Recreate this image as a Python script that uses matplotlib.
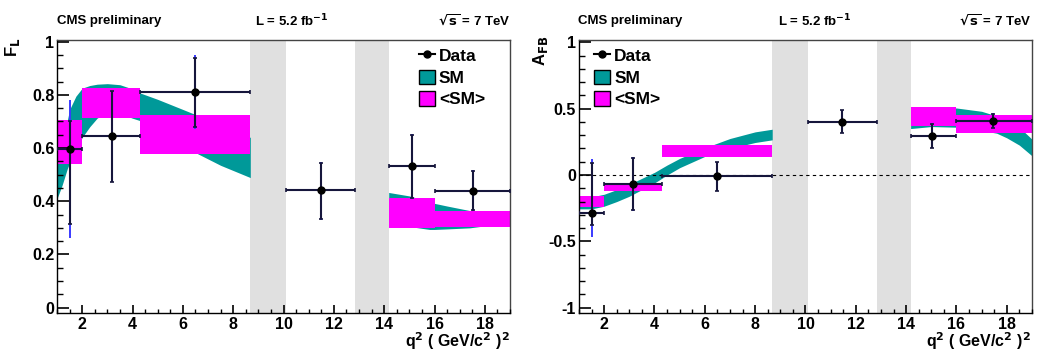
import numpy as np
import matplotlib
matplotlib.use('Agg')
import matplotlib.pyplot as plt
from matplotlib.lines import Line2D
from matplotlib.patches import Patch
from matplotlib.ticker import MultipleLocator

plt.rcParams['font.family'] = ['Liberation Sans', 'DejaVu Sans']
plt.rcParams['font.weight'] = 'bold'
plt.rcParams['mathtext.default'] = 'bf'

# q2 bins (GeV^2)
bin_lo = np.array([1.0, 2.0, 4.3, 10.09, 14.18, 16.0])
bin_hi = np.array([2.0, 4.3, 8.68, 12.86, 16.0, 19.0])
vetoed = [(8.68, 10.09), (12.86, 14.18)]

# F_L data
fl_x = np.array([1.5, 3.17, 6.49, 11.47, 15.1, 17.52])
fl_val = np.array([0.597, 0.644, 0.809, 0.443, 0.532, 0.44])
fl_stat_up = np.array([0.105, 0.17, 0.13, 0.10, 0.118, 0.072])
fl_stat_dn = np.array([0.282, 0.17, 0.13, 0.108, 0.12, 0.072])
fl_tot_up = np.array([0.183, 0.172, 0.14, 0.106, 0.122, 0.076])
fl_tot_dn = np.array([0.337, 0.172, 0.137, 0.112, 0.125, 0.076])
# <SM> bin averages (low, high)
fl_avg_lo = np.array([0.541, 0.712, 0.577, np.nan, 0.299, 0.302])
fl_avg_hi = np.array([0.704, 0.827, 0.723, np.nan, 0.414, 0.365])
# SM band
fl_sm_q2_a = [1.0, 1.2, 1.4, 1.5, 1.75, 2.0, 2.3, 2.6, 3.0, 3.5, 4.0, 4.3, 5.0, 6.0, 6.6, 7.5, 8.68]
fl_sm_up_a = [0.55, 0.63, 0.70, 0.745, 0.795, 0.825, 0.835, 0.84, 0.842, 0.838, 0.822, 0.807, 0.783, 0.745, 0.722, 0.687, 0.64]
fl_sm_dn_a = [0.41, 0.46, 0.52, 0.545, 0.595, 0.64, 0.68, 0.713, 0.73, 0.73, 0.712, 0.703, 0.665, 0.61, 0.578, 0.535, 0.489]
fl_sm_q2_b = [14.18, 15.0, 15.8, 16.0, 16.5, 17.4, 18.2, 19.0]
fl_sm_up_b = [0.433, 0.42, 0.398, 0.392, 0.382, 0.365, 0.355, 0.35]
fl_sm_dn_b = [0.34, 0.305, 0.294, 0.294, 0.296, 0.30, 0.31, 0.325]

# A_FB data
afb_x = np.array([1.5, 3.16, 6.49, 11.44, 15.04, 17.45])
afb_val = np.array([-0.285, -0.068, -0.01, 0.40, 0.295, 0.407])
afb_stat_up = np.array([0.372, 0.198, 0.108, 0.088, 0.093, 0.056])
afb_stat_dn = np.array([0.09, 0.198, 0.11, 0.083, 0.093, 0.053])
afb_tot_up = np.array([0.405, 0.20, 0.11, 0.09, 0.095, 0.058])
afb_tot_dn = np.array([0.183, 0.20, 0.113, 0.085, 0.095, 0.055])
afb_avg_lo = np.array([-0.243, -0.123, 0.132, np.nan, 0.37, 0.32])
afb_avg_hi = np.array([-0.155, -0.062, 0.227, np.nan, 0.512, 0.452])
afb_sm_q2_a = [1.0, 1.5, 2.0, 2.5, 3.0, 3.5, 4.0, 4.5, 5.0, 6.0, 7.0, 8.0, 8.68]
afb_sm_up_a = [-0.17, -0.165, -0.145, -0.11, -0.07, -0.025, 0.02, 0.075, 0.125, 0.205, 0.275, 0.325, 0.345]
afb_sm_dn_a = [-0.255, -0.255, -0.235, -0.20, -0.16, -0.11, -0.06, 0.0, 0.055, 0.14, 0.20, 0.245, 0.265]
afb_sm_q2_b = [14.18, 15.0, 16.0, 17.0, 17.6, 18.0, 18.5, 19.0]
afb_sm_up_b = [0.47, 0.49, 0.505, 0.48, 0.445, 0.41, 0.36, 0.27]
afb_sm_dn_b = [0.35, 0.365, 0.36, 0.335, 0.315, 0.28, 0.225, 0.145]

teal = '#009999'
magenta = '#ff00ff'
navy = '#16163c'
blue = '#3a3aff'

fig = plt.figure(figsize=(10.37, 3.58), dpi=100)
ax1 = fig.add_axes([0.0550, 0.1265, 0.4368, 0.7617])
ax2 = fig.add_axes([0.5583, 0.1265, 0.4368, 0.7617])


def draw_panel(ax, x, val, s_up, s_dn, t_up, t_dn, avg_lo, avg_hi, sm):
    for a, b in vetoed:
        ax.axvspan(a, b, color='#e0e0e0', lw=0, zorder=0)
    for q, up, dn in sm:
        ax.fill_between(q, dn, up, color=teal, lw=0, zorder=1)
    ok = ~np.isnan(avg_lo)
    ax.bar(bin_lo[ok], (avg_hi - avg_lo)[ok], width=(bin_hi - bin_lo)[ok],
           bottom=avg_lo[ok], align='edge', color=magenta, lw=0, zorder=2)
    ax.errorbar(x, val, yerr=[t_dn, t_up], fmt='none', ecolor=blue,
                elinewidth=1.4, capsize=0, zorder=3)
    ax.errorbar(x, val, xerr=[x - bin_lo, bin_hi - x], yerr=[s_dn, s_up],
                fmt='o', color='black', ms=5, ecolor=navy, elinewidth=1.5,
                capsize=1.5, capthick=1.2, zorder=4)
    ax.set_xlim(1, 19)
    ax.xaxis.set_major_locator(MultipleLocator(2))
    ax.xaxis.set_minor_locator(MultipleLocator(0.5))
    ax.tick_params(axis='both', which='both', direction='in', top=False, right=False,
                   labelsize=11.5)
    ax.tick_params(axis='y', which='major', length=8.5, width=1.2, pad=2)
    ax.tick_params(axis='y', which='minor', length=4.3, width=1)
    ax.tick_params(axis='x', which='major', length=5.8, width=1.2, pad=3)
    ax.tick_params(axis='x', which='minor', length=2.9, width=1)
    for lab in ax.get_xticklabels() + ax.get_yticklabels():
        lab.set_fontweight('bold')
    for sp in ax.spines.values():
        sp.set_linewidth(1.0)
        sp.set_color('#444444')
    ax.spines['left'].set_color('black')
    ax.spines['bottom'].set_color('black')
    ax.set_axisbelow(False)


draw_panel(ax1, fl_x, fl_val, fl_stat_up, fl_stat_dn, fl_tot_up, fl_tot_dn,
           fl_avg_lo, fl_avg_hi,
           [(fl_sm_q2_a, fl_sm_up_a, fl_sm_dn_a), (fl_sm_q2_b, fl_sm_up_b, fl_sm_dn_b)])
ax1.set_ylim(-0.019, 1.006)
ax1.yaxis.set_minor_locator(MultipleLocator(0.05))
ax1.set_yticks([0, 0.2, 0.4, 0.6, 0.8, 1.0], ['0', '0.2', '0.4', '0.6', '0.8', '1'],
               fontweight='bold')

draw_panel(ax2, afb_x, afb_val, afb_stat_up, afb_stat_dn, afb_tot_up, afb_tot_dn,
           afb_avg_lo, afb_avg_hi,
           [(afb_sm_q2_a, afb_sm_up_a, afb_sm_dn_a), (afb_sm_q2_b, afb_sm_up_b, afb_sm_dn_b)])
ax2.axhline(0, color='black', lw=0.8, ls=(0, (3, 3)), zorder=1.5)
ax2.set_ylim(-1.0375, 1.017)
ax2.yaxis.set_minor_locator(MultipleLocator(0.1))
ax2.set_yticks([-1, -0.5, 0, 0.5, 1], ['-1', '-0.5', '0', '0.5', '1'], fontweight='bold')

handles = [Line2D([], [], color='black', marker='o', ms=5, lw=1.5),
           Patch(facecolor=teal, edgecolor='black', lw=1),
           Patch(facecolor=magenta, edgecolor='black', lw=1)]
labels = ['Data', 'SM', '<SM>']
for ax, xa in [(ax1, 0.795), (ax2, 0.03)]:
    ax.legend(handles, labels, loc='upper left', bbox_to_anchor=(xa, 0.978),
              frameon=False, prop={'size': 12.5, 'weight': 'bold'},
              handlelength=0.9, handleheight=0.9, handletextpad=0.25,
              labelspacing=0.32, borderpad=0.1, borderaxespad=0)

# header texts and axis titles
for x0, xc, x1 in [(57, 292, 510), (578, 815, 1031)]:
    fig.text(x0 / 1037, 0.94, 'CMS preliminary', fontsize=9.5, fontweight='bold',
             ha='left', va='center')
    fig.text(xc / 1037, 0.94, r'L = 5.2 fb$^{-1}$', fontsize=9.5, fontweight='bold',
             ha='center', va='center')
    fig.text(x1 / 1037, 0.94, r'$\sqrt{s}$ = 7 TeV', fontsize=9.5, fontweight='bold',
             ha='right', va='center')
    fig.text(x1 / 1037, 0.048, r'q$^{2}$ ( GeV/c$^{2}$ )$^{2}$', fontsize=11.5,
             fontweight='bold', ha='right', va='center')

fig.text(12 / 1037, 1 - 38 / 358, r'F$_{L}$', fontsize=12, fontweight='bold',
         rotation=90, ha='center', va='top')
fig.text(540 / 1037, 1 - 36 / 358, r'A$_{FB}$', fontsize=12, fontweight='bold',
         rotation=90, ha='center', va='top')

fig.savefig('out.png', dpi=100)
